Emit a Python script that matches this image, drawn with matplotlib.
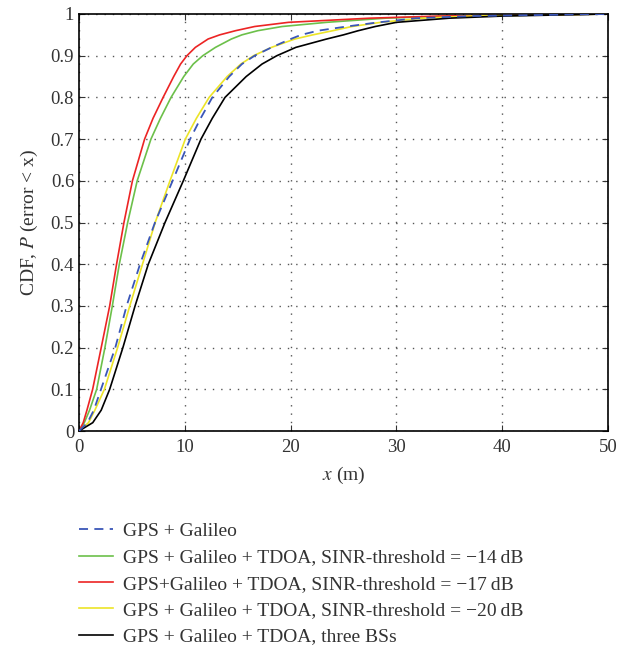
import numpy as np
import matplotlib
matplotlib.use("Agg")
import matplotlib.pyplot as plt

plt.rcParams['font.family'] = ['Liberation Serif', 'DejaVu Serif']
plt.rcParams['mathtext.fontset'] = 'stix'

# CDF curves: (x in m, P)
cdf_y = [0, 0.02, 0.05, 0.1, 0.2, 0.3, 0.4, 0.5, 0.6, 0.7, 0.75, 0.8, 0.85, 0.88,
         0.9, 0.92, 0.94, 0.95, 0.96, 0.97, 0.98, 0.99, 0.995, 1.0]

gal_x   = [0, 0.8, 1.4, 2.08, 3.43, 4.5, 5.77, 7.18, 8.85, 10.5, 11.5, 12.6, 14.2, 15.4,
           16.6, 18.2, 20.0, 21.0, 22.6, 25.3, 28.3, 32.0, 37.0, 50.0]
sin14_x = [0, 0.5, 1.0, 1.67, 2.45, 3.15, 3.81, 4.6, 5.5, 6.8, 7.7, 8.7, 9.9, 10.8,
           11.7, 12.9, 14.4, 15.4, 16.9, 19.2, 23.4, 29.0, 35.0, 50.0]
sin17_x = [0, 0.4, 0.75, 1.29, 2.1, 2.9, 3.55, 4.25, 5.05, 6.2, 7.0, 7.95, 8.95, 9.6,
           10.2, 11.0, 12.2, 13.3, 14.8, 16.6, 19.8, 27.5, 34.0, 50.0]
sin20_x = [0, 0.9, 1.5, 2.4, 3.65, 4.8, 6.0, 7.2, 8.6, 10.05, 11.1, 12.3, 14.0, 15.3,
           16.5, 18.2, 20.4, 22.1, 24.0, 25.8, 28.5, 32.5, 37.0, 50.0]
bs3_x   = [0, 1.3, 2.1, 2.9, 4.15, 5.3, 6.55, 8.13, 9.86, 11.53, 12.6, 13.8, 15.8, 17.3,
           18.7, 20.5, 23.4, 25.0, 26.4, 28.0, 30.0, 35.0, 40.0, 50.0]

labels = [
    "GPS + Galileo",
    "GPS + Galileo + TDOA, SINR-threshold = \u221214\u2009dB",
    "GPS+Galileo + TDOA, SINR-threshold = \u221217\u2009dB",
    "GPS + Galileo + TDOA, SINR-threshold = \u221220\u2009dB",
    "GPS + Galileo + TDOA, three BSs",
]

fig = plt.figure(figsize=(6.21, 6.45), dpi=100)
ax = fig.add_axes([79/621, 1 - 431/645, (608-79)/621, (431-14)/645])

ax.plot(gal_x, cdf_y, color='#3a56b8', ls=(0, (5, 3.5)), lw=1.3, label=labels[0], zorder=6)
ax.plot(sin14_x, cdf_y, color='#6cc04a', lw=1.2, label=labels[1])
ax.plot(sin17_x, cdf_y, color='#ec2424', lw=1.2, label=labels[2])
ax.plot(sin20_x, cdf_y, color='#ece428', lw=1.2, label=labels[3])
ax.plot(bs3_x, cdf_y, color='black', lw=1.2, label=labels[4])

ax.set_xlim(0, 50)
ax.set_ylim(0, 1)
ax.set_xticks([0, 10, 20, 30, 40, 50])
ax.set_yticks(np.round(np.arange(0, 1.01, 0.1), 1))
ax.set_yticklabels(['0', '0.1', '0.2', '0.3', '0.4', '0.5', '0.6', '0.7', '0.8', '0.9', '1'])
ax.tick_params(direction='in', top=True, right=True, length=4, labelsize=13.5, colors='#333333')
ax.tick_params(axis='x', pad=6)
for s in ax.spines.values():
    s.set_linewidth(1.2)
ax.grid(True, ls=(0, (1, 5)), color='#555555', lw=1.0)

ax.set_xlabel('$x$ (m)', fontsize=14, color='#333333', labelpad=6)
ax.set_ylabel('CDF, $P$ (error < x)', fontsize=14, color='#333333', labelpad=8)

handles, labs = ax.get_legend_handles_labels()
fig.legend(handles, labs, loc='upper left', bbox_to_anchor=(61/621, 1 - 505/645),
           frameon=False, fontsize=14, handlelength=1.75, handletextpad=0.55,
           labelspacing=0.45, labelcolor='#333333')

fig.savefig('out.png', dpi=100)
